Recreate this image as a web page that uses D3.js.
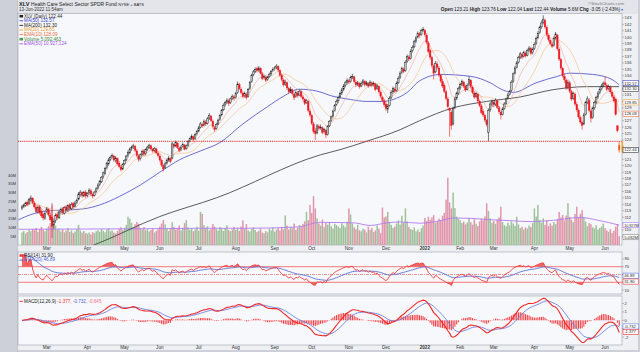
<!DOCTYPE html>
<html>
<head>
<meta charset="utf-8">
<script src="https://cdn.jsdelivr.net/npm/d3@7"></script>
<style>
  html, body { margin: 0; padding: 0; background: #cdd0d8; }
  svg { display: block; font-family: "Liberation Sans", Arial, sans-serif; }
</style>
</head>
<body>
<svg id="chart" width="640" height="352"></svg>
<script>
// Month labels on the date axis and the bar index where each month starts
const monthNames = ["Mar","Apr","May","Jun","Jul","Aug","Sep","Oct","Nov","Dec","2022","Feb","Mar","Apr","May","Jun"]
const monthStart = [14,37,58,78,100,121,143,164,185,206,228,248,267,290,310,330]

// Daily XLV bars, 8-Feb-2021 .. 13-Jun-2022
const opens = [113.4,113.7,113.8,114.3,114.1,114.6,114.9,114.2,113.5,112.7,113.6,112.9,112.4,111.8,
112.9,113.2,112.3,112.0,110.8,111.5,112.4,111.9,112.9,113.3,112.6,113.6,113.0,113.9,113.3,114.1,113.7,114.3,114.8,115.5,115.8,115.3,115.9,
115.4,115.8,116.1,115.5,115.4,116.0,116.5,117.1,117.5,118.3,118.8,119.7,120.3,121.0,121.4,121.5,120.8,121.1,120.4,119.8,119.5,
120.3,120.9,121.6,122.0,122.7,123.0,123.0,122.3,121.5,121.1,121.8,122.3,121.9,122.6,122.9,123.1,122.5,122.4,122.6,121.9,
121.5,120.8,120.0,119.7,120.4,120.9,121.1,121.2,123.3,123.1,123.5,122.7,122.5,123.0,123.2,122.7,123.2,123.9,124.3,124.5,124.2,125.0,
125.4,126.0,126.4,126.3,126.8,126.6,127.4,127.7,126.9,125.9,125.8,126.5,127.2,127.9,128.7,129.5,129.9,130.1,129.8,130.5,130.7,
130.6,131.4,132.6,131.9,131.3,130.9,131.1,130.8,132.0,133.1,134.2,134.7,135.1,134.9,135.1,134.3,133.7,133.8,133.4,133.9,134.3,134.8,
135.1,135.3,135.4,134.8,134.0,133.3,132.7,132.9,132.0,131.6,131.8,131.1,130.8,131.3,131.0,131.5,130.7,130.3,129.8,130.0,128.5,
127.8,126.5,125.4,125.1,126.1,125.9,125.9,125.3,125.5,124.9,126.2,127.0,127.7,128.6,129.5,130.1,130.7,131.3,131.9,132.5,133.0,
133.2,133.1,133.8,133.8,133.0,132.7,132.8,132.4,132.9,133.1,132.7,132.8,132.5,132.9,132.6,132.7,132.0,132.3,131.4,130.6,130.1,
129.6,128.8,129.4,130.6,131.5,131.9,131.7,132.9,133.7,134.5,135.0,134.8,136.2,136.9,136.7,137.9,138.5,139.4,140.0,140.5,140.4,141.1,
141.0,140.3,139.1,137.9,136.8,135.5,134.6,135.8,135.2,134.0,133.1,132.5,131.5,130.4,128.9,128.3,126.5,129.0,130.5,131.3,
132.1,132.7,133.0,132.3,131.9,132.6,133.3,132.2,131.3,130.8,131.1,130.0,129.3,128.4,127.8,127.0,125.2,128.7,129.5,
129.9,129.6,130.1,129.0,128.3,128.0,128.9,129.7,130.5,131.1,131.7,133.1,134.4,135.3,136.1,136.9,137.3,137.0,137.5,137.2,138.0,138.2,137.6,
138.2,139.0,139.9,140.7,141.6,142.3,142.6,141.5,140.3,139.5,138.9,138.7,139.9,140.3,138.1,136.5,135.1,133.9,133.3,132.2,
132.9,131.5,130.5,131.1,129.5,128.6,127.5,126.7,126.5,128.0,129.9,130.2,128.5,127.5,129.0,129.9,130.7,131.4,132.0,132.5,
132.9,132.5,132.0,132.2,131.4,130.7,130.3,126.2,123.21]

const highs = [113.9,114.1,114.4,114.6,115.0,115.4,115.1,114.5,113.8,113.8,113.9,113.2,112.7,112.9,
113.6,113.4,112.7,113.8,111.8,112.6,112.8,113.0,113.5,113.6,113.7,113.9,114.0,114.2,114.3,114.4,114.5,114.9,115.9,116.2,116.0,116.1,116.2,
115.9,116.5,116.4,115.8,116.1,116.7,117.3,117.8,118.4,119.1,119.8,120.6,121.2,121.6,121.9,121.7,121.5,121.3,120.7,120.1,120.4,
121.0,121.7,122.4,122.8,123.1,123.4,123.2,122.6,121.8,121.9,122.5,122.6,122.7,123.1,123.4,123.3,122.8,122.9,122.8,122.2,
121.8,121.1,120.3,120.6,121.1,121.5,121.3,123.7,123.5,123.9,123.7,123.0,123.2,123.6,123.4,123.3,124.0,124.4,124.9,124.7,125.1,125.6,
126.2,126.8,126.7,127.2,127.1,127.6,128.2,127.9,127.2,126.2,126.7,127.3,128.0,128.8,129.7,130.1,130.5,130.4,130.6,131.1,131.0,
131.5,133.1,132.9,132.2,131.6,131.5,131.4,132.1,133.2,134.3,134.9,135.3,135.4,135.5,135.3,134.6,134.2,134.1,134.0,134.5,134.9,135.3,
135.5,135.8,135.6,135.0,134.3,133.6,133.4,133.1,132.3,132.3,132.0,131.4,131.7,131.6,131.9,131.7,131.0,130.5,130.4,130.2,128.9,
128.1,126.8,125.9,126.5,126.4,126.4,126.1,125.9,125.7,126.3,127.1,127.8,128.7,129.6,130.3,130.9,131.5,132.1,132.7,133.2,133.6,
133.5,134.0,134.3,134.0,133.3,133.2,133.0,133.1,133.5,133.3,133.2,133.0,133.3,133.1,133.1,132.9,132.7,132.5,131.7,130.9,130.4,
130.0,129.6,130.8,131.7,132.3,132.2,133.1,133.9,134.7,135.4,135.3,136.4,137.3,137.2,138.1,138.7,139.6,140.2,140.9,140.8,141.3,141.6,
141.3,140.6,139.4,138.2,137.1,135.8,136.3,136.2,135.5,134.3,133.5,132.8,131.8,130.7,129.1,128.7,129.2,130.7,131.5,132.3,
132.9,133.4,133.2,132.6,132.8,133.9,133.5,132.5,131.6,131.5,131.3,130.3,129.6,128.8,128.1,127.3,128.9,129.9,130.3,
130.2,130.5,130.3,129.3,128.6,129.1,129.9,130.6,131.3,131.8,133.3,134.5,135.5,136.3,137.1,137.7,137.6,137.9,137.8,138.2,138.6,138.5,138.4,
139.2,140.1,140.9,141.8,142.6,143.4,142.9,141.8,140.6,139.8,139.2,140.1,140.8,140.5,138.4,136.8,135.4,134.3,133.6,133.4,
133.2,131.8,131.5,131.4,129.9,128.9,127.8,127.0,128.2,130.1,130.8,130.5,128.8,129.2,130.1,130.9,131.6,132.2,132.7,133.1,
133.9,132.8,132.6,132.5,131.7,131.0,130.5,126.3,123.76]

const lows = [113.1,113.4,113.6,113.7,113.9,114.4,114.0,113.3,112.6,112.5,112.4,111.9,111.5,111.6,
112.6,112.1,111.3,108.8,110.2,111.1,111.6,111.7,112.5,112.4,112.4,112.8,112.8,113.1,113.1,113.3,113.5,114.0,114.6,115.2,115.0,115.1,115.0,
115.1,115.5,115.3,114.9,115.2,115.8,116.3,116.8,117.3,118.0,118.6,119.4,120.0,120.7,121.1,120.6,120.5,120.1,119.6,119.1,119.3,
120.1,120.7,121.3,121.8,122.3,122.6,122.1,121.3,120.6,120.8,121.5,121.5,121.6,122.3,122.6,122.4,122.0,122.1,121.8,121.3,
120.6,119.8,119.1,119.5,120.2,120.6,120.4,121.0,122.7,122.9,122.6,122.1,122.3,122.8,122.4,122.5,123.0,123.6,124.0,123.8,124.0,124.7,
125.2,125.8,125.9,126.1,126.2,126.4,127.1,126.8,125.8,125.3,125.6,126.3,127.0,127.7,128.5,129.2,129.6,129.3,129.6,130.2,130.1,
130.4,131.2,131.8,131.1,130.5,130.6,130.3,130.6,131.8,132.9,133.9,134.4,134.5,134.6,134.2,133.3,133.4,133.0,133.2,133.7,134.0,134.6,
134.8,135.0,134.6,133.8,133.1,132.3,132.4,131.8,131.2,131.3,130.9,130.2,130.6,130.6,130.8,130.5,130.0,129.4,129.6,128.3,127.6,
126.3,125.0,124.0,124.9,125.5,125.6,124.9,125.0,124.3,124.7,126.0,126.8,127.5,128.4,129.3,129.8,130.5,131.0,131.6,132.2,132.6,
132.7,132.9,133.5,132.8,132.3,132.4,132.0,132.2,132.6,132.3,132.4,132.1,132.3,132.2,132.3,131.6,131.8,131.2,130.5,129.9,129.1,
128.5,128.2,129.2,130.4,131.2,131.3,131.5,132.7,133.5,134.3,134.4,134.6,136.0,136.3,136.5,137.6,138.3,139.1,139.8,139.9,140.2,140.8,
140.1,138.9,137.5,136.5,135.2,133.4,134.4,135.0,133.8,132.9,132.1,131.3,130.2,128.9,124.5,125.6,126.3,128.8,130.2,131.0,
131.8,132.4,132.1,131.5,131.7,132.4,132.0,131.1,130.4,130.5,129.8,129.1,128.0,127.6,126.8,126.1,123.8,128.4,129.2,
129.1,129.3,128.8,128.1,127.2,127.8,128.7,129.5,130.3,130.9,131.5,132.9,134.2,135.1,135.9,136.6,136.6,136.8,136.8,137.0,137.7,137.2,137.3,
138.0,138.8,139.7,140.5,141.3,142.0,141.3,140.1,139.3,138.7,138.3,138.5,139.6,137.9,136.3,134.9,133.7,132.9,131.8,131.9,
131.3,130.1,130.2,129.3,128.4,127.3,126.5,125.6,126.3,127.8,129.6,128.3,126.7,127.3,128.7,129.6,130.4,131.1,131.7,132.2,
132.4,131.6,131.7,131.2,130.5,129.8,127.8,125.2,122.04]

const closes = [113.6,113.9,114.2,114.0,114.8,115.0,114.3,113.6,112.9,113.5,112.7,112.2,111.9,112.6,
113.3,112.4,111.6,110.6,111.4,112.3,112.0,112.8,113.2,112.7,113.5,113.1,113.8,113.4,114.0,113.6,114.2,114.6,115.6,115.9,115.4,115.8,115.3,
115.7,116.2,115.6,115.3,115.9,116.4,117.0,117.6,118.2,118.9,119.6,120.4,120.9,121.3,121.6,120.9,121.2,120.3,119.9,119.4,120.2,
120.8,121.5,122.1,122.6,122.9,123.1,122.4,121.6,121.0,121.7,122.2,121.8,122.5,122.9,123.2,122.6,122.3,122.7,122.0,121.6,
120.9,120.1,119.5,120.3,120.8,121.2,120.7,123.4,123.0,123.6,122.8,122.4,122.9,123.3,122.6,123.1,123.8,124.2,124.6,124.1,124.9,125.3,
125.9,126.5,126.2,126.9,126.5,127.3,127.8,127.0,126.1,125.6,126.4,127.1,127.8,128.6,129.4,129.8,130.2,129.7,130.4,130.8,130.5,
131.3,132.7,132.0,131.4,130.8,131.2,130.6,131.9,133.0,134.1,134.6,135.0,134.8,135.2,134.4,133.6,133.9,133.3,133.8,134.2,134.7,135.0,
135.2,135.5,134.9,134.1,133.4,132.6,133.0,132.1,131.5,131.9,131.2,130.6,131.4,130.9,131.6,130.8,130.4,129.7,130.1,128.6,127.9,
126.6,125.3,125.0,126.2,125.8,126.0,125.2,125.6,124.8,126.1,126.9,127.6,128.5,129.4,130.0,130.6,131.2,131.8,132.4,132.9,133.3,
133.0,133.7,133.9,133.1,132.6,132.9,132.3,132.8,133.2,132.6,132.9,132.4,133.0,132.5,132.8,131.9,132.4,131.5,130.8,130.2,129.5,
128.9,129.3,130.5,131.4,132.0,131.6,132.8,133.6,134.4,135.1,134.7,136.1,137.0,136.6,137.8,138.4,139.3,139.9,140.6,140.3,141.0,141.2,
140.4,139.2,137.8,136.9,135.6,134.4,135.9,135.3,134.1,133.2,132.4,131.6,130.5,129.2,128.6,126.3,128.9,130.4,131.2,132.0,
132.6,133.1,132.4,131.8,132.5,133.4,132.3,131.4,130.7,131.2,130.1,129.4,128.3,127.9,127.1,126.4,128.6,129.6,130.0,
129.5,130.2,129.1,128.4,127.9,128.8,129.6,130.4,131.0,131.6,133.0,134.3,135.2,136.0,136.8,137.4,136.9,137.6,137.1,137.9,138.3,137.5,138.1,
138.9,139.8,140.6,141.5,142.2,142.8,141.6,140.4,139.6,139.0,138.6,139.8,140.5,138.2,136.6,135.2,134.0,133.4,132.1,133.0,
131.6,130.4,131.2,129.6,128.7,127.6,126.8,126.3,127.9,129.8,130.4,128.6,127.4,128.9,129.8,130.6,131.3,131.9,132.4,132.8,
132.6,131.9,132.3,131.5,130.8,130.1,128.0,125.49,122.44]

// Daily volume, millions of shares
const volumes = [7.2,8.0,6.6,7.4,8.8,7.9,9.3,8.5,9.8,7.6,9.1,10.4,8.7,7.9,
9.5,10.8,12.6,24.0,13.5,11.2,8.6,9.4,7.8,8.9,7.3,8.2,9.7,7.5,8.4,6.9,7.8,9.1,11.6,8.3,7.1,8.0,6.8,
6.5,7.2,6.1,7.4,6.8,7.9,8.5,7.6,9.2,8.1,7.3,8.8,9.6,7.9,8.4,7.1,6.7,8.0,9.3,10.2,8.6,
9.8,11.5,16.2,15.1,12.8,10.4,11.9,13.2,12.1,9.6,8.9,10.3,8.4,9.1,7.8,8.6,9.4,7.2,8.1,9.0,
10.6,12.3,14.4,11.8,9.2,8.1,9.5,13.1,10.4,8.9,9.8,11.2,8.5,9.9,12.6,14.3,10.1,8.7,9.4,7.9,8.8,10.5,
8.2,19.0,17.8,11.4,9.6,10.8,8.4,9.3,12.1,10.6,9.1,8.3,10.2,9.5,8.1,9.7,11.3,8.6,7.9,9.0,10.4,
8.7,9.9,8.1,10.6,14.2,9.3,12.0,8.4,7.7,9.1,10.3,8.6,7.4,8.2,9.5,7.1,6.8,8.0,7.3,9.4,8.5,10.1,
7.6,8.8,9.7,8.3,10.5,9.1,17.0,11.2,8.9,10.4,9.6,12.3,8.7,9.9,11.5,10.2,12.1,13.6,19.0,14.2,23.0,
18.5,28.0,21.0,15.3,12.4,11.1,14.6,10.3,12.8,11.6,13.1,10.8,9.5,12.2,11.4,10.6,9.8,12.5,11.3,10.1,13.4,
21.0,17.5,12.4,10.2,9.1,11.6,8.4,7.9,9.3,8.8,7.2,10.5,8.6,9.7,7.5,8.3,11.2,9.4,6.8,21.5,15.8,
16.4,19.0,13.2,11.5,9.8,10.6,12.3,14.1,11.7,16.8,12.6,21.0,13.5,10.4,9.2,8.6,10.1,7.8,8.9,7.4,9.6,11.2,
15.5,13.8,16.2,14.4,15.8,17.1,12.9,13.6,15.2,14.3,16.8,18.4,26.0,38.6,24.5,21.0,30.0,21.2,16.3,15.1,
14.2,12.6,13.4,11.8,12.9,15.6,13.1,11.7,14.8,12.2,10.9,13.5,15.2,14.1,16.4,24.0,19.6,15.3,12.7,
13.8,12.1,14.6,15.9,22.0,13.2,11.4,10.7,12.8,11.3,13.6,12.4,10.9,16.2,11.8,9.7,10.5,8.9,10.1,9.4,11.2,10.3,12.6,
21.0,16.4,23.0,14.2,12.8,15.3,11.6,13.9,10.8,12.4,11.1,13.2,12.0,14.7,19.0,15.8,17.2,14.1,16.9,24.0,
16.2,14.5,13.1,17.8,22.0,15.6,17.9,20.0,16.1,13.4,10.8,12.6,11.9,10.2,9.6,11.4,8.9,9.8,10.6,12.3,
9.7,8.4,7.6,9.1,6.8,8.2,10.5,11.9,5.09]

// Long moving averages (bar index, value)
const ma50Idx  = [-2,12,35,44,55,67,78,89,101,112,125,139,148,157,167,176,186,195,204,210,218,225,237,254,265,272,278,291,303,310,323,334,338]
const ma50Val  = [111.6,112.9,113.3,113.9,115.2,117.0,119.0,120.9,122.3,123.6,126.5,129.2,130.8,131.9,131.6,130.8,130.3,130.0,130.0,130.3,131.4,133.2,134.2,133.9,132.9,131.8,131.4,132.9,133.9,134.4,134.2,133.4,132.57]
const ma200Idx = [0,41,78,110,169,180,195,214,225,244,263,282,300,320,338]
const ma200Val = [104.0,107.7,112.1,115.0,121.7,122.5,123.8,125.6,127.0,129.0,130.0,130.7,131.8,132.3,132.30]
const volEmaIdx = [-2,44,78,101,128,157,168,180,188,197,207,214,225,237,244,254,263,276,288,301,316,326,338]
const volEmaVal = [9.0,9.2,9.4,9.6,9.6,10.4,13.0,12.9,12.7,11.2,12.8,13.2,12.5,14.0,15.5,15.3,14.6,14.0,13.4,14.2,15.8,14.2,11.4]

// Support line and axis ticks
const supportLevel = 123.8
const priceTicks = d3.range(109, 144)
const volTicks = [5,10,15,20,25,30,35,40]
const rsiTicks = [10,30,50,70,90]
const macdTicks = [-2,-1,0,1,2]

const svg = d3.select("#chart")
const plotL = 18, plotR = 622
const n = closes.length

// Scales
const x  = d3.scaleLinear().domain([0, 338]).range([22, 619.2])
const yP = d3.scaleLinear().domain([107.67, 143.6]).range([245, 14])
const yV = d3.scaleLinear().domain([0, 40]).range([245, 175.3])
const yR = d3.scaleLinear().domain([0, 100]).range([294, 255])
const yM = d3.scaleLinear().domain([-2, 2]).range([337.1, 303.5])

// Indicator helpers
function sma(arr, len) {
    return arr.map((v, i) => d3.mean(arr.slice(Math.max(0, i - len + 1), i + 1)))
}
function ema(arr, len) {
    const k = 2 / (len + 1)
    let e
    return arr.map((v, i) => e = (i === 0 ? v : v * k + e * (1 - k)))
}
function rsiCalc(arr, len) {
    let ag = 0, al = 0
    const out = [50]
    for (let i = 1; i < arr.length; i++) {
        const ch = arr[i] - arr[i - 1]
        const m = Math.min(i, len)
        ag = (ag * (m - 1) + Math.max(ch, 0)) / m
        al = (al * (m - 1) + Math.max(-ch, 0)) / m
        out.push(al === 0 ? 100 : 100 - 100 / (1 + ag / al))
    }
    out[0] = out[1]
    return out
}

const ma20 = sma(closes, 20)
const ema10 = ema(closes, 10)
const rsi = rsiCalc(closes, 14)
const rsiEma = ema(rsi, 20)
const ema12 = ema(closes, 12), ema26 = ema(closes, 26)
const macd = closes.map((c, i) => ema12[i] - ema26[i])
const signal = ema(macd, 9)
const hist = macd.map((m, i) => m - signal[i])

// Value boxes on the right edge: [y, text, outline colour]
const priceBoxes = [
    [yP(132.57) - 1.8, "132.57", "#4b4bd0"],
    [yP(132.30) + 2.4, "132.30", "#333"],
    [yP(129.85), "129.85", "#f0a040"],
    [yP(128.09), "128.09", "#f07050"],
    [yP(closes[n - 1]), "122.44", "#333"],
    [yV(volEmaVal[volEmaVal.length - 1]), "10.927M", "#b27af0"],
    [yV(volumes[n - 1]) + 1, "5.092M", "#888"]
]
const rsiBoxes = [[yR(46.89), "46.89", "#5a6fd8"], [yR(31.90), "31.90", "#f03c3c"]]
const macdBoxes = [[yM(-0.732), "-0.732", "#6b80e6"], [yM(-1.377), "-1.377", "#f02828"]]

// Background
svg.append("rect").attr("width", 640).attr("height", 352).attr("fill", "#cdd0d8")
svg.append("rect").attr("x", 17).attr("y", 0).attr("width", 621).attr("height", 13.5).attr("fill", "#e3e5ea")
svg.append("rect").attr("x", 17).attr("y", 13.5).attr("width", 621).attr("height", 336.5).attr("fill", "#eef0f4")
svg.append("line").attr("x1", 17.5).attr("x2", 17.5).attr("y1", 0).attr("y2", 352).attr("stroke", "#a8acb5").attr("stroke-width", 0.6)

const panels = [
    { id: "clipP", y0: 13.5, y1: 245 },
    { id: "clipR", y0: 252, y1: 294 },
    { id: "clipM", y0: 296, y1: 345 }
]
const defs = svg.append("defs")
panels.forEach(p => {
    svg.append("rect").attr("x", plotL).attr("y", p.y0).attr("width", plotR - plotL).attr("height", p.y1 - p.y0)
        .attr("fill", "#f7f8fb").attr("stroke", "#9ba1ab").attr("stroke-width", 0.6)
    defs.append("clipPath").attr("id", p.id).append("rect")
        .attr("x", plotL).attr("y", p.y0).attr("width", plotR - plotL).attr("height", p.y1 - p.y0)
})

const idx = d3.range(n)
const upDay = i => i === 0 ? closes[0] >= opens[0] : closes[i] >= closes[i - 1]

// ---- Price panel ----
const gP = svg.append("g").attr("clip-path", "url(#clipP)")

// Volume bars behind the price
gP.selectAll("rect.vol").data(idx).join("rect").attr("class", "vol")
    .attr("x", i => x(i) - 0.75).attr("width", 1.5)
    .attr("y", i => yV(volumes[i])).attr("height", i => yV(0) - yV(volumes[i]))
    .attr("fill", i => upDay(i) ? "#9fc09a" : "#e096aa")

const lineSparse = (ys) => d3.line().x(d => x(d[0])).y(d => ys(d[1])).curve(d3.curveMonotoneX)
const lineDaily = (ys) => d3.line().x((d, i) => x(i)).y(d => ys(d))

gP.append("path").datum(d3.zip(volEmaIdx, volEmaVal)).attr("d", lineSparse(yV))
    .attr("fill", "none").attr("stroke", "#b27af0").attr("stroke-width", 0.9)
gP.append("path").datum(d3.zip(ma200Idx, ma200Val)).attr("d", lineSparse(yP))
    .attr("fill", "none").attr("stroke", "#4a4a4a").attr("stroke-width", 0.9)
gP.append("path").datum(d3.zip(ma50Idx, ma50Val)).attr("d", lineSparse(yP))
    .attr("fill", "none").attr("stroke", "#5a5ccc").attr("stroke-width", 0.9)
gP.append("path").datum(ma20).attr("d", lineDaily(yP))
    .attr("fill", "none").attr("stroke", "#f6c28c").attr("stroke-width", 0.7)
gP.append("path").datum(ema10).attr("d", lineDaily(yP))
    .attr("fill", "none").attr("stroke", "#f5a48e").attr("stroke-width", 0.6)

// Candles
const candleCol = i => upDay(i) ? "#1c1c1c" : "#ec1a1f"
gP.selectAll("line.wick").data(idx).join("line").attr("class", "wick")
    .attr("x1", i => x(i)).attr("x2", i => x(i))
    .attr("y1", i => yP(highs[i])).attr("y2", i => yP(lows[i]))
    .attr("stroke", candleCol).attr("stroke-width", 0.6)
gP.selectAll("rect.body").data(idx).join("rect").attr("class", "body")
    .attr("x", i => x(i) - 0.75).attr("width", 1.5)
    .attr("y", i => yP(Math.max(opens[i], closes[i])))
    .attr("height", i => Math.max(0.6, Math.abs(yP(opens[i]) - yP(closes[i]))))
    .attr("fill", i => closes[i] < opens[i] ? candleCol(i) : "#cfcfcf")
    .attr("stroke", i => i === n - 1 ? "#f5a623" : candleCol(i)).attr("stroke-width", 0.45)

// Support level
svg.append("line").attr("x1", plotL).attr("x2", plotR)
    .attr("y1", yP(supportLevel)).attr("y2", yP(supportLevel))
    .attr("stroke", "#e01010").attr("stroke-width", 0.9).attr("stroke-dasharray", "1.2,0.9")

// ---- RSI panel ----
const gR = svg.append("g").attr("clip-path", "url(#clipR)")
gR.append("path").datum(rsi).attr("fill", "#f04a4a").attr("opacity", 0.85)
    .attr("d", d3.area().x((d, i) => x(i)).y0(yR(70)).y1(d => yR(Math.max(d, 70))))
gR.append("path").datum(rsi).attr("fill", "#f04a4a").attr("opacity", 0.85)
    .attr("d", d3.area().x((d, i) => x(i)).y0(yR(30)).y1(d => yR(Math.min(d, 30))))
;[70, 30].forEach(v => gR.append("line").attr("x1", plotL).attr("x2", plotR).attr("y1", yR(v)).attr("y2", yR(v))
    .attr("stroke", "#ee5a5a").attr("stroke-width", 0.8))
gR.append("line").attr("x1", plotL).attr("x2", plotR).attr("y1", yR(50)).attr("y2", yR(50))
    .attr("stroke", "#e05050").attr("stroke-width", 0.6).attr("stroke-dasharray", "3,1,1,1")
gR.append("path").datum(rsiEma).attr("d", lineDaily(yR))
    .attr("fill", "none").attr("stroke", "#5a6fd8").attr("stroke-width", 0.9)
gR.append("path").datum(rsi).attr("d", lineDaily(yR))
    .attr("fill", "none").attr("stroke", "#f03c3c").attr("stroke-width", 0.9)

// ---- MACD panel ----
const gM = svg.append("g").attr("clip-path", "url(#clipM)")
gM.selectAll("rect.h").data(idx).join("rect").attr("class", "h")
    .attr("x", i => x(i) - 0.55).attr("width", 1.1)
    .attr("y", i => Math.min(yM(0), yM(hist[i])))
    .attr("height", i => Math.abs(yM(hist[i]) - yM(0)))
    .attr("fill", "#f04448")
gM.append("path").datum(signal).attr("d", lineDaily(yM))
    .attr("fill", "none").attr("stroke", "#6b80e6").attr("stroke-width", 0.9)
gM.append("path").datum(macd).attr("d", lineDaily(yM))
    .attr("fill", "none").attr("stroke", "#f02828").attr("stroke-width", 1.1)

// ---- Date axis labels ----
;[250, 349.2].forEach(yy => {
    svg.append("g").selectAll("text").data(monthNames).join("text")
        .attr("x", (d, k) => x(monthStart[k])).attr("y", yy)
        .attr("text-anchor", "middle").attr("font-size", 4.6).attr("fill", "#333")
        .attr("font-weight", d => d === "2022" ? "bold" : "normal")
        .text(d => d)
})

// ---- Right axes (labels under a value box are left out) ----
function rightTicks(values, scale, boxes) {
    const g = svg.append("g")
    g.selectAll("line").data(values).join("line")
        .attr("x1", plotR).attr("x2", plotR + 1.8).attr("y1", d => scale(d)).attr("y2", d => scale(d))
        .attr("stroke", "#777").attr("stroke-width", 0.5)
    const free = values.filter(v => boxes.every(b => Math.abs(scale(v) - b[0]) > 4.6))
    g.selectAll("text").data(free).join("text")
        .attr("x", plotR + 2.6).attr("y", d => scale(d) + 1.4)
        .attr("font-size", 4.1).attr("fill", "#333").text(d => d)
}
rightTicks(priceTicks, yP, priceBoxes)
rightTicks(rsiTicks, yR, rsiBoxes)
rightTicks(macdTicks, yM, macdBoxes)

// Left volume axis
svg.append("g").selectAll("text").data(volTicks).join("text")
    .attr("x", 16).attr("y", d => yV(d) + 1.4).attr("text-anchor", "end")
    .attr("font-size", 4.1).attr("fill", "#333").text(d => d + "M")

// Marker for today's bar next to the last price box
svg.append("rect").attr("x", plotR - 0.5).attr("y", yP(highs[n - 1])).attr("width", 1.6)
    .attr("height", yP(lows[n - 1]) - yP(highs[n - 1])).attr("fill", "#f5a623")

priceBoxes.concat(rsiBoxes, macdBoxes).forEach(([y, text, stroke]) => {
    svg.append("rect").attr("x", plotR + 1).attr("y", y - 2.6).attr("width", 15.5).attr("height", 5.2)
        .attr("fill", "#fff").attr("stroke", stroke).attr("stroke-width", 0.6)
    svg.append("text").attr("x", plotR + 2.2).attr("y", y + 1.4)
        .attr("font-size", text.length > 6 ? 3.7 : 4.1).attr("fill", "#222").text(text)
})

// ---- Header ----
const title = svg.append("text").attr("x", 19).attr("y", 5.6).attr("font-size", 5).attr("fill", "#222")
title.append("tspan").attr("font-weight", "bold").attr("font-size", 5.6).text("XLV ")
title.append("tspan").text("Health Care Select Sector SPDR Fund ")
title.append("tspan").attr("font-size", 4).text("NYSE + BATS")
svg.append("text").attr("x", 19).attr("y", 11.4).attr("font-size", 4.5).attr("fill", "#333").text("13-Jun-2022 11:54am")

svg.append("text").attr("x", 624).attr("y", 5).attr("text-anchor", "end")
    .attr("font-size", 4.3).attr("fill", "#777").text("©StockCharts.com")
const quote = [["Open", "123.21"], ["High", "123.76"], ["Low", "122.04"], ["Last", "122.44"],
    ["Volume", "5.6M"], ["Chg", "-3.05 (-2.43%)"]]
const qt = svg.append("text").attr("x", 620).attr("y", 11.4).attr("text-anchor", "end")
    .attr("font-size", 4.7).attr("fill", "#222")
quote.forEach(([k, v], j) => {
    qt.append("tspan").attr("font-weight", "bold").text((j ? "  " : "") + k + " ")
    qt.append("tspan").text(v)
})
svg.append("text").attr("x", 621).attr("y", 11.4).attr("font-size", 4.2).attr("fill", "#3a5bd0").text("▾")

// ---- Legends ----
function legend(x0, y, items) {
    items.forEach((it, k) => {
        const yy = y + k * 4.6
        if (it.icon === "bar") {
            svg.append("rect").attr("x", x0).attr("y", yy - 2.6).attr("width", 3.6).attr("height", 2.6).attr("fill", it.color)
        } else {
            svg.append("line").attr("x1", x0).attr("x2", x0 + 3.6).attr("y1", yy - 1.3).attr("y2", yy - 1.3)
                .attr("stroke", it.color).attr("stroke-width", 0.9)
        }
        const t = svg.append("text").attr("x", x0 + 4.6).attr("y", yy).attr("font-size", 4.6)
        it.parts.forEach(p => t.append("tspan").attr("fill", p[1]).text(p[0]))
    })
}
legend(19.5, 17.5, [
    { icon: "bar", color: "#222", parts: [["XLV (Daily) 122.44", "#222"]] },
    { color: "#3a3ad0", parts: [["MA(50) 132.57", "#3a3ad0"]] },
    { color: "#222", parts: [["MA(200) 132.30", "#222"]] },
    { color: "#f0a030", parts: [["MA(20) 129.85", "#f0a030"]] },
    { color: "#f07040", parts: [["EMA(10) 128.09", "#f07040"]] },
    { icon: "bar", color: "#4a9a4a", parts: [["Volume 5,092,463", "#3a8a3a"]] },
    { color: "#a050f0", parts: [["EMA(50) 10,927,124", "#a050f0"]] }
])
legend(19.5, 256.8, [
    { icon: "bar", color: "#f03c3c", parts: [["RSI(14) 31.90", "#222"]] },
    { color: "#4a5fd0", parts: [["EMA(20) 46.89", "#4a5fd0"]] }
])
legend(19.5, 302.6, [
    { color: "#f02828", parts: [["MACD(12,26,9) ", "#222"], ["-1.377, ", "#f02828"], ["-0.732, ", "#4a5fd0"], ["-0.645", "#f07080"]] }
])
</script>
</body>
</html>
